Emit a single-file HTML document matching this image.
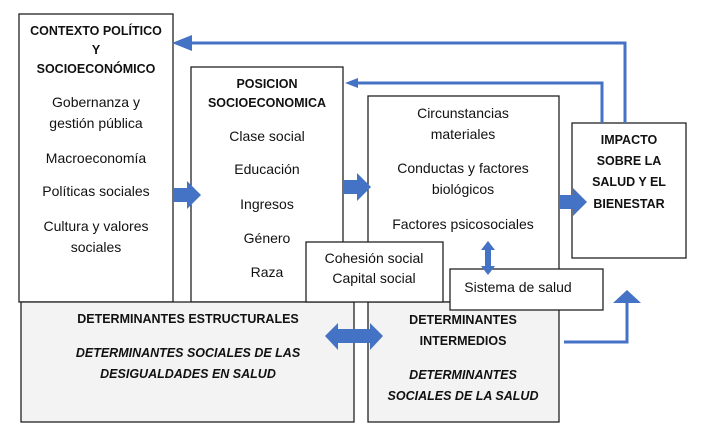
<!DOCTYPE html>
<html><head><meta charset="utf-8"><style>
body{margin:0;background:#fff;}
svg text{font-family:"Liberation Sans",sans-serif;fill:#111;}
.t{font-size:14px;text-anchor:middle;}
.b{font-size:12.5px;font-weight:bold;text-anchor:middle;}
.i{font-size:12.5px;font-weight:bold;font-style:italic;text-anchor:middle;}
</style></head><body>
<svg width="722" height="430" viewBox="0 0 722 430" xmlns="http://www.w3.org/2000/svg">
<g stroke="#222" stroke-width="1.3">
<rect x="19" y="14" width="154" height="288" fill="#fff"/>
<rect x="191" y="67" width="152" height="235" fill="#fff"/>
<rect x="368" y="96" width="191" height="206" fill="#fff"/>
<rect x="572" y="123" width="114" height="135" fill="#fff"/>
<rect x="21" y="302" width="333" height="120" fill="#f3f3f3"/>
<rect x="368" y="302" width="191" height="120" fill="#f3f3f3"/>
<rect x="306" y="242" width="137" height="60" fill="#fff"/>
<rect x="450" y="269" width="153" height="41" fill="#fff"/>
</g>
<g fill="none" stroke="#4472c4" stroke-width="3">
<polyline points="625,123 625,43 190,43"/>
<polyline points="602,123 602,83 356,83"/>
<polyline points="564,342 627,342 627,302"/>
</g>
<g fill="#4472c4">
<polygon points="172,43 192,35 192,51"/>
<polygon points="345,83 358,78 358,88"/>
<polygon points="613,303 627,290 641,303"/>
<polygon points="173,188 187,188 187,181 201,195 187,209 187,202 173,202"/>
<polygon points="343,180 357,180 357,173 371,187 357,201 357,194 343,194"/>
<polygon points="559,195 573,195 573,188 587,202 573,216 573,209 559,209"/>
<polygon points="325,336 338,323 338,329 370,329 370,323 383,336 370,350 370,343 338,343 338,350"/>
<polygon points="488,241 495,250 491,250 491,266 495,266 488,275 481,266 485,266 485,250 481,250"/>
</g>
<text class="b" x="96" y="35">CONTEXTO POLÍTICO</text>
<text class="b" x="96" y="54">Y</text>
<text class="b" x="96" y="73">SOCIOECONÓMICO</text>
<text class="t" x="96" y="107">Gobernanza y</text>
<text class="t" x="96" y="128">gestión pública</text>
<text class="t" x="96" y="163">Macroeconomía</text>
<text class="t" x="96" y="196">Políticas sociales</text>
<text class="t" x="96" y="231">Cultura y valores</text>
<text class="t" x="96" y="252">sociales</text>
<text class="b" x="267" y="88">POSICION</text>
<text class="b" x="267" y="107">SOCIOECONOMICA</text>
<text class="t" x="267" y="141">Clase social</text>
<text class="t" x="267" y="174">Educación</text>
<text class="t" x="267" y="209">Ingresos</text>
<text class="t" x="267" y="243">Género</text>
<text class="t" x="267" y="277">Raza</text>
<text class="t" x="463" y="118">Circunstancias</text>
<text class="t" x="463" y="139">materiales</text>
<text class="t" x="463" y="173">Conductas y factores</text>
<text class="t" x="463" y="194">biológicos</text>
<text class="t" x="463" y="229">Factores psicosociales</text>
<text class="b" x="629" y="144">IMPACTO</text>
<text class="b" x="629" y="165">SOBRE LA</text>
<text class="b" x="629" y="186">SALUD Y EL</text>
<text class="b" x="629" y="208">BIENESTAR</text>
<text class="t" x="374" y="263">Cohesión social</text>
<text class="t" x="374" y="283">Capital social</text>
<text class="t" x="518" y="292">Sistema de salud</text>
<text class="b" x="188" y="323">DETERMINANTES ESTRUCTURALES</text>
<text class="i" x="188" y="357">DETERMINANTES SOCIALES DE LAS</text>
<text class="i" x="188" y="378">DESIGUALDADES EN SALUD</text>
<text class="b" x="463" y="324">DETERMINANTES</text>
<text class="b" x="463" y="345">INTERMEDIOS</text>
<text class="i" x="463" y="379">DETERMINANTES</text>
<text class="i" x="463" y="400">SOCIALES DE LA SALUD</text>
</svg>
</body></html>
